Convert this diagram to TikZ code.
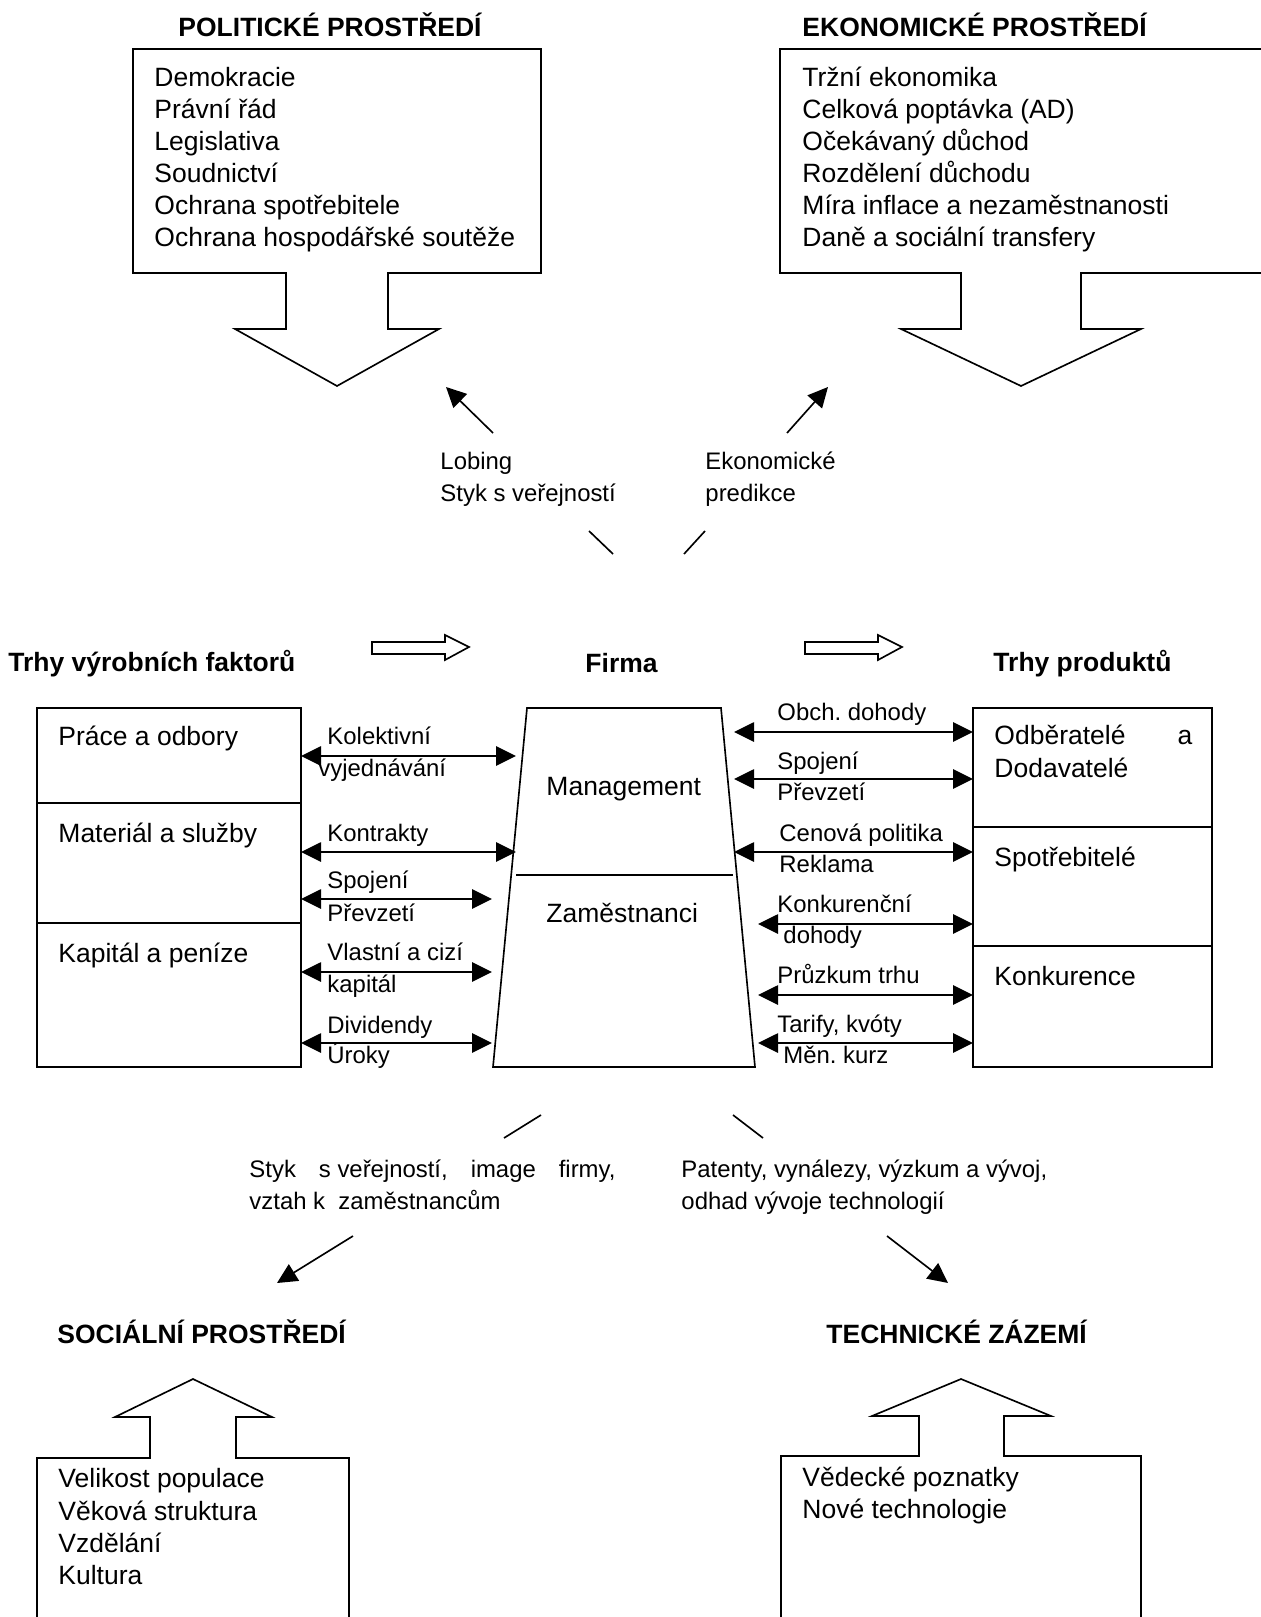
\documentclass[tikz,border=0pt]{standalone}
\usepackage{fontspec}
\setmainfont{Liberation Sans}
\usetikzlibrary{arrows.meta}

\tikzset{
  outline/.style={draw=black,line width=0.7pt,line join=miter},
  title/.style={anchor=base west,inner sep=0pt,font=\fontsize{11.3}{13.66}\selectfont\bfseries},
  boxtext/.style={anchor=base west,inner sep=0pt,align=left,font=\fontsize{11.3}{13.66}\selectfont},
  lbl/.style={anchor=base west,inner sep=0pt,align=left,font=\fontsize{10.2}{13.66}\selectfont},
  twoway/.style={draw=black,line width=0.7pt,{Triangle[length=0.3cm,width=0.29cm]}-{Triangle[length=0.3cm,width=0.29cm]}},
  oneway/.style={draw=black,line width=0.7pt,-{Triangle[length=0.3cm,width=0.29cm]}},
  plain/.style={draw=black,line width=0.7pt}
}

\begin{document}
\begin{tikzpicture}[x=0.015cm,y=-0.015cm]
  \useasboundingbox (0,0) rectangle (1260,1617);

  % outer boxes with their block arrows
  \draw[outline] (133,49) -- (541,49) -- (541,273) -- (388,273) -- (388,329) -- (439,329)
    -- (337,386) -- (235,329) -- (286,329) -- (286,273) -- (133,273) -- cycle;
  \draw[outline] (780,49) -- (1280,49) -- (1280,273) -- (1081,273) -- (1081,329) -- (1141,329)
    -- (1021,386) -- (901,329) -- (961,329) -- (961,273) -- (780,273) -- cycle;
  \draw[outline] (37,1640) -- (37,1458) -- (150,1458) -- (150,1417) -- (115,1417) -- (193,1379)
    -- (272,1417) -- (236,1417) -- (236,1458) -- (349,1458) -- (349,1640);
  \draw[outline] (781,1640) -- (781,1456) -- (919,1456) -- (919,1416) -- (872,1416) -- (961,1379)
    -- (1051,1416) -- (1004,1416) -- (1004,1456) -- (1141,1456) -- (1141,1640);

  % hollow arrows between the markets
  \draw[outline] (372,642) -- (445,642) -- (445,635) -- (469,647) -- (445,660) -- (445,654) -- (372,654) -- cycle;
  \draw[outline] (805,642) -- (878,642) -- (878,635) -- (902,647) -- (878,660) -- (878,654) -- (805,654) -- cycle;

  % markets and firm
  \draw[outline] (37,708) rectangle (301,1067);
  \draw[outline] (37,803) -- (301,803);
  \draw[outline] (37,923) -- (301,923);
  \draw[outline] (527,708) -- (721,708) -- (755,1067) -- (493,1067) -- cycle;
  \draw[outline] (516,875) -- (733,875);
  \draw[outline] (973,708) rectangle (1212,1067);
  \draw[outline] (973,827) -- (1212,827);
  \draw[outline] (973,946) -- (1212,946);

  \node[title] (polT) at (178,37) {POLITICKÉ PROSTŘEDÍ};
  \node[title] (ekoT) at (802,37) {EKONOMICKÉ PROSTŘEDÍ};
  \node[title] (fakT) at (8,671) {Trhy výrobních faktorů};
  \node[title] (firT) at (585,672) {Firma};
  \node[title] (proT) at (993,671) {Trhy produktů};
  \node[title] (socT) at (57,1343) {SOCIÁLNÍ PROSTŘEDÍ};
  \node[title] (tecT) at (826,1343) {TECHNICKÉ ZÁZEMÍ};

  % multi-line nodes sit on the baseline of their last line
  \begin{scope}[every node/.style={boxtext}]
    \node (polL) at (154,247) {Demokracie\\Právní řád\\Legislativa\\Soudnictví\\Ochrana spotřebitele\\Ochrana hospodářské soutěže};
    \node (ekoL) at (802,247) {Tržní ekonomika\\Celková poptávka (AD)\\Očekávaný důchod\\Rozdělení důchodu\\Míra inflace a nezaměstnanosti\\Daně a sociální transfery};
    \node (socL) at (58,1584) {Velikost populace\\Věková struktura\\Vzdělání\\Kultura};
    \node (tecL) at (802,1518) {Vědecké poznatky\\Nové technologie};
    \node (prace) at (58,745) {Práce a odbory};
    \node (mater) at (58,842) {Materiál a služby};
    \node (kapit) at (58,962) {Kapitál a peníze};
    \node (mgmt) at (546,795) {Management};
    \node (zam) at (546,922) {Zaměstnanci};
    \node (odber) at (994,777) {\makebox[2.97cm][l]{Odběratelé\hfill a}\\Dodavatelé};
    \node (spotr) at (994,866) {Spotřebitelé};
    \node (konk) at (994,985) {Konkurence};
  \end{scope}

  \begin{scope}[every node/.style={lbl}]
    \node (lob) at (440,502) {Lobing\\Styk s veřejností};
    \node (pred) at (705,502) {Ekonomické\\predikce};
    \node (kol1) at (327,744) {Kolektivní};
    \node (kol2) at (318,776) {vyjednávání};
    \node (kon) at (327,841) {Kontrakty};
    \node (spL1) at (327,888) {Spojení};
    \node (spL2) at (327,921) {Převzetí};
    \node (vl1) at (327,960) {Vlastní a cizí};
    \node (vl2) at (327,992) {kapitál};
    \node (div1) at (327,1033) {Dividendy};
    \node (div2) at (327,1063) {Úroky};
    \node (obch) at (777,720) {Obch.\ dohody};
    \node (spR1) at (777,769) {Spojení};
    \node (spR2) at (777,800) {Převzetí};
    \node (cen1) at (779,841) {Cenová politika};
    \node (cen2) at (779,872) {Reklama};
    \node (kk1) at (777,912) {Konkurenční};
    \node (kk2) at (783,943) {dohody};
    \node (pruz) at (777,983) {Průzkum trhu};
    \node (tar1) at (777,1032) {Tarify, kvóty};
    \node (tar2) at (783,1063) {Měn.\ kurz};
    \node (styk) at (249,1209) {\makebox[5.49cm][l]{Styk\hfill s veřejností,\hfill image\hfill firmy,}\\vztah k\ \ zaměstnancům};
    \node (pat) at (681,1209) {Patenty, vynálezy, výzkum a vývoj,\\odhad vývoje technologií};
  \end{scope}

  % ends of the connectors
  \coordinate (la1) at (301,756);  \coordinate (lb1) at (516,756);
  \coordinate (la2) at (301,852);  \coordinate (lb2) at (516,852);
  \coordinate (la3) at (301,899);  \coordinate (lb3) at (492,899);
  \coordinate (la4) at (301,972);  \coordinate (lb4) at (492,972);
  \coordinate (la5) at (301,1043); \coordinate (lb5) at (492,1043);
  \coordinate (ra1) at (734,732);  \coordinate (rb1) at (973,732);
  \coordinate (ra2) at (734,779);  \coordinate (rb2) at (973,779);
  \coordinate (ra3) at (734,852);  \coordinate (rb3) at (973,852);
  \coordinate (ra4) at (758,924);  \coordinate (rb4) at (973,924);
  \coordinate (ra5) at (758,995);  \coordinate (rb5) at (973,995);
  \coordinate (ra6) at (758,1043); \coordinate (rb6) at (973,1043);
  \coordinate (lobA) at (493,433); \coordinate (lobB) at (446,387);
  \coordinate (preA) at (787,433); \coordinate (preB) at (828,387);
  \coordinate (up1) at (589,531);  \coordinate (up2) at (613,554);
  \coordinate (up3) at (705,531);  \coordinate (up4) at (684,554);
  \coordinate (dn1) at (541,1115); \coordinate (dn2) at (504,1138);
  \coordinate (dn3) at (733,1115); \coordinate (dn4) at (763,1138);
  \coordinate (socA) at (353,1236); \coordinate (socB) at (277,1283);
  \coordinate (tecA) at (887,1236); \coordinate (tecB) at (948,1283);

  \begin{scope}[every edge/.style={twoway}]
    \path (la1) edge (lb1);
    \path (la2) edge (lb2);
    \path (la3) edge (lb3);
    \path (la4) edge (lb4);
    \path (la5) edge (lb5);
    \path (ra1) edge (rb1);
    \path (ra2) edge (rb2);
    \path (ra3) edge (rb3);
    \path (ra4) edge (rb4);
    \path (ra5) edge (rb5);
    \path (ra6) edge (rb6);
  \end{scope}
  \begin{scope}[every edge/.style={oneway}]
    \path (lobA) edge (lobB);
    \path (preA) edge (preB);
    \path (socA) edge (socB);
    \path (tecA) edge (tecB);
  \end{scope}
  \begin{scope}[every edge/.style={plain}]
    \path (up1) edge (up2);
    \path (up3) edge (up4);
    \path (dn1) edge (dn2);
    \path (dn3) edge (dn4);
  \end{scope}
\end{tikzpicture}
\end{document}
